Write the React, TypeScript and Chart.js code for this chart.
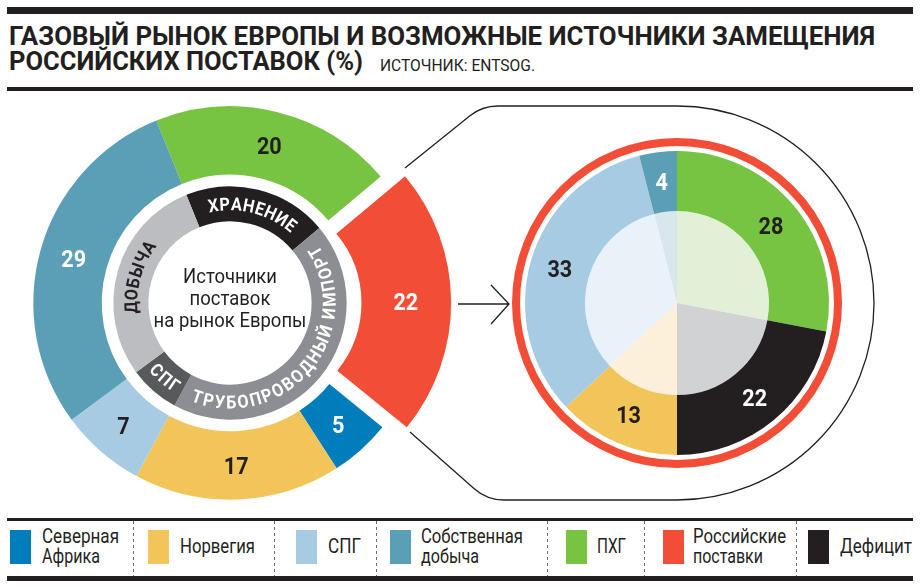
import React, { useEffect, useLayoutEffect, useRef } from 'react';
import { Chart, registerables } from 'chart.js';

Chart.register(...registerables);

// ---------- data ----------
const sourceLabels = ['ПХГ', 'Российские поставки', 'Северная Африка', 'Норвегия', 'СПГ', 'Собственная добыча'];
const sourceValues = [20, 22, 5, 17, 7, 29];
const sourceColors = ['#76c442', '#f24d36', '#007dba', '#f2c55a', '#a8cbe4', '#5a9fb6'];
const sourceLabelColors = ['#231f20', '#ffffff', '#ffffff', '#231f20', '#231f20', '#ffffff'];

const groupLabels = ['ХРАНЕНИЕ', 'ТРУБОПРОВОДНЫЙ ИМПОРТ', 'СПГ', 'ДОБЫЧА'];
const groupValues = [20, 44, 7, 29];
const groupColors = ['#231f20', '#8d8e93', '#58595b', '#bcbdc0'];
const groupTextColors = ['#ffffff', '#ffffff', '#ffffff', '#231f20'];
const groupTextOutward = [true, false, false, true];

const centerLines = ['Источники', 'поставок', 'на рынок Европы'];

const replLabels = ['ПХГ', 'Дефицит', 'Норвегия', 'СПГ', 'Собственная добыча'];
const replValues = [28, 22, 13, 33, 4];
const replColors = ['#76c442', '#231f20', '#f2c55a', '#a8cbe4', '#5a9fb6'];
const replTints = ['#e2f0d8', '#d1d2d4', '#fcf0db', '#e9f2f9', '#d8e7ed'];
const replLabelColors = ['#231f20', '#ffffff', '#231f20', '#231f20', '#ffffff'];

const legendLabels = [['Северная', 'Африка'], ['Норвегия'], ['СПГ'], ['Собственная', 'добыча'], ['ПХГ'], ['Российские', 'поставки'], ['Дефицит']];
const legendColors = ['#007dba', '#f2c55a', '#a8cbe4', '#5a9fb6', '#76c442', '#f24d36', '#231f20'];

const titleLine1 = 'ГАЗОВЫЙ РЫНОК ЕВРОПЫ И ВОЗМОЖНЫЕ ИСТОЧНИКИ ЗАМЕЩЕНИЯ';
const titleLine2 = 'РОССИЙСКИХ ПОСТАВОК (%)';
const sourceNote = 'ИСТОЧНИК: ENTSOG.';

// ---------- layout ----------
const INK = '#231f20';
const FONT = 'Roboto, "Liberation Sans", sans-serif';
const legendSwatchX = [10, 148, 296, 390, 566, 663, 808];
const legendTextX = [42, 180, 328, 421, 597, 693, 840];
const legendTextW = [[77, 58], [75], [33], [102, 58], [29], [93, 70], [72]];
const legendSepX = [133, 274, 376, 547, 644, 796];
const RED_INNER = 107;

function drawCurved(ctx: CanvasRenderingContext2D, text: string, cx: number, cy: number, r: number, mid: number,
  outward: boolean, size: number, color: string, sx: number, ls: number) {
  ctx.save();
  ctx.font = `bold ${size}px ${FONT}`;
  ctx.fillStyle = color;
  ctx.textAlign = 'center';
  ctx.textBaseline = 'alphabetic';
  const cap = size * 0.711;
  const chars = [...text];
  const widths = chars.map((ch) => ctx.measureText(ch).width * sx + ls);
  const total = widths.reduce((a, b) => a + b, 0) - ls;
  const totalAngle = total / r;
  let acc = 0;
  chars.forEach((ch, i) => {
    const w = widths[i] - ls;
    const off = (acc + w / 2) / r;
    const a = outward ? mid - totalAngle / 2 + off : mid + totalAngle / 2 - off;
    ctx.save();
    ctx.translate(cx + r * Math.cos(a), cy + r * Math.sin(a));
    ctx.rotate(outward ? a + Math.PI / 2 : a - Math.PI / 2);
    ctx.scale(sx, 1);
    ctx.fillText(ch, 0, cap / 2);
    ctx.restore();
    acc += widths[i];
  });
  ctx.restore();
}

function drawNumber(ctx: CanvasRenderingContext2D, text: string, x: number, y: number, color: string) {
  const size = 24;
  ctx.save();
  ctx.font = `bold ${size}px ${FONT}`;
  ctx.fillStyle = color;
  ctx.textAlign = 'center';
  ctx.textBaseline = 'alphabetic';
  ctx.translate(x, y);
  ctx.scale(0.9, 1);
  ctx.fillText(text, 0, size * 0.711 / 2);
  ctx.restore();
}

const leftPlugin = {
  id: 'leftDecor',
  beforeDatasetsDraw(chart: any) {
    const red = chart.getDatasetMeta(0).data[1];
    if (red) red.innerRadius = RED_INNER;
  },
  afterDatasetsDraw(chart: any) {
    const ctx: CanvasRenderingContext2D = chart.ctx;
    chart.getDatasetMeta(2).data.forEach((arc: any, i: number) => {
      const mid = (arc.startAngle + arc.endAngle) / 2;
      const r = (arc.innerRadius + arc.outerRadius) / 2;
      drawCurved(ctx, groupLabels[i], arc.x, arc.y, r, mid, groupTextOutward[i], 18, groupTextColors[i], 0.9, 1.2);
    });
    chart.getDatasetMeta(0).data.forEach((arc: any, i: number) => {
      const mid = (arc.startAngle + arc.endAngle) / 2;
      const r = (arc.innerRadius + arc.outerRadius) / 2;
      const off = (arc.options.offset || 0) / 4;
      drawNumber(ctx, String(sourceValues[i]), arc.x + Math.cos(mid) * (r + off), arc.y + Math.sin(mid) * (r + off), sourceLabelColors[i]);
    });
    const c = chart.getDatasetMeta(0).data[0];
    ctx.save();
    ctx.font = `21px ${FONT}`;
    ctx.fillStyle = INK;
    ctx.textAlign = 'center';
    ctx.textBaseline = 'alphabetic';
    centerLines.forEach((line, i) => {
      ctx.save();
      ctx.translate(c.x, c.y - 19.7 + i * 21.7);
      ctx.scale(0.88, 1);
      ctx.fillText(line, 0, 0);
      ctx.restore();
    });
    ctx.restore();
  },
};

const rightPlugin = {
  id: 'rightDecor',
  beforeDatasetsDraw(chart: any) {
    const ctx: CanvasRenderingContext2D = chart.ctx;
    const a = chart.getDatasetMeta(0).data[0];
    const cx = a.x, cy = a.y;
    const R = 197;
    ctx.save();
    ctx.strokeStyle = INK;
    ctx.lineWidth = 1.3;
    ctx.beginPath();
    ctx.moveTo(cx - 272, cy - 135);
    ctx.arcTo(cx - 195, cy - R, cx, cy - R, 45);
    ctx.lineTo(cx, cy - R);
    ctx.arc(cx, cy, R, -Math.PI / 2, Math.PI / 2);
    ctx.arcTo(cx - 190, cy + R, cx - 267, cy + 129, 45);
    ctx.lineTo(cx - 267, cy + 129);
    ctx.stroke();
    // arrow
    ctx.beginPath();
    ctx.moveTo(cx - 219, cy + 1);
    ctx.lineTo(cx - 168, cy + 1);
    ctx.moveTo(cx - 186, cy - 18);
    ctx.lineTo(cx - 168, cy + 1);
    ctx.lineTo(cx - 186, cy + 21);
    ctx.stroke();
    ctx.restore();
  },
  afterDatasetsDraw(chart: any) {
    const ctx: CanvasRenderingContext2D = chart.ctx;
    const meta = chart.getDatasetMeta(0);
    const a = meta.data[0];
    ctx.save();
    ctx.strokeStyle = '#f24d36';
    ctx.lineWidth = 8;
    ctx.beginPath();
    ctx.arc(a.x, a.y, 161, 0, Math.PI * 2);
    ctx.stroke();
    ctx.restore();
    meta.data.forEach((arc: any, i: number) => {
      const mid = (arc.startAngle + arc.endAngle) / 2;
      const r = (arc.innerRadius + arc.outerRadius) / 2;
      drawNumber(ctx, String(replValues[i]), arc.x + Math.cos(mid) * r, arc.y + Math.sin(mid) * r, replLabelColors[i]);
    });
  },
};

function Txt({ x, top, w, size, weight, children }: any) {
  return (
    <span
      data-fit={w}
      style={{
        position: 'absolute', left: x, top, fontSize: size, lineHeight: `${size}px`, fontWeight: weight,
        fontFamily: FONT, color: INK, whiteSpace: 'nowrap', transformOrigin: '0 0', display: 'inline-block',
      }}
    >
      {children}
    </span>
  );
}

function Rule({ top, h }: { top: number; h: number }) {
  return <div style={{ position: 'absolute', left: 7, width: 906, top, height: h, background: INK }} />;
}

export default function App() {
  const leftRef = useRef<HTMLCanvasElement>(null);
  const rightRef = useRef<HTMLCanvasElement>(null);

  useLayoutEffect(() => {
    const fit = () => {
      document.querySelectorAll<HTMLElement>('[data-fit]').forEach((el) => {
        el.style.transform = 'none';
        const w = el.getBoundingClientRect().width;
        const t = parseFloat(el.dataset.fit || '0');
        if (w > 0 && t > 0) el.style.transform = `scaleX(${t / w})`;
      });
    };
    fit();
    const fonts = (document as any).fonts;
    if (fonts && fonts.ready) fonts.ready.then(fit);
  }, []);

  useEffect(() => {
    const left = new Chart(leftRef.current as HTMLCanvasElement, {
      type: 'doughnut',
      data: {
        labels: sourceLabels,
        datasets: [
          { data: sourceValues, backgroundColor: sourceColors, borderWidth: 0, offset: [0, 96, 0, 0, 0, 0], weight: 68.4 } as any,
          { data: sourceValues, backgroundColor: 'rgba(0,0,0,0)', borderWidth: 0, weight: 11.6 } as any,
          { data: groupValues, backgroundColor: groupColors, borderWidth: 0, weight: 35 } as any,
        ],
      },
      options: {
        animation: false,
        responsive: false,
        events: [],
        rotation: -22,
        cutout: '41.5%',
        radius: 196.7,
        plugins: { legend: { display: false }, tooltip: { enabled: false } },
      } as any,
      plugins: [leftPlugin],
    });
    const right = new Chart(rightRef.current as HTMLCanvasElement, {
      type: 'pie',
      data: {
        labels: replLabels,
        datasets: [
          { data: replValues, backgroundColor: replColors, borderWidth: 0, weight: 60 } as any,
          { data: replValues, backgroundColor: replTints, borderWidth: 0, weight: 92 } as any,
        ],
      },
      options: {
        animation: false,
        responsive: false,
        events: [],
        rotation: 0,
        radius: 152,
        layout: { padding: { left: 44 } },
        plugins: { legend: { display: false }, tooltip: { enabled: false } },
      } as any,
      plugins: [rightPlugin],
    });
    return () => {
      left.destroy();
      right.destroy();
    };
  }, []);

  return (
    <div style={{ position: 'absolute', left: 0, top: 0, width: 920, height: 587, background: '#fff', overflow: 'hidden' }}>
      <Rule top={7} h={6.5} />
      <Txt x={9} top={24} w={866} size={25} weight={700}>{titleLine1}</Txt>
      <Txt x={9} top={49} w={354} size={25} weight={700}>{titleLine2}</Txt>
      <Txt x={380} top={57.8} w={155} size={16.2} weight={400}>{sourceNote}</Txt>
      <Rule top={87} h={3.5} />

      <canvas ref={leftRef} width={460} height={420} style={{ position: 'absolute', left: 0, top: 93, width: 460, height: 420 }} />
      <canvas ref={rightRef} width={510} height={420} style={{ position: 'absolute', left: 400, top: 93, width: 510, height: 420 }} />

      <Rule top={518.3} h={2.5} />
      {legendSepX.map((x, i) => (
        <div key={'s' + i} style={{
          position: 'absolute', left: x, top: 521, width: 1.3, height: 55,
          backgroundImage: 'repeating-linear-gradient(to bottom, #6d6e71 0px, #6d6e71 3px, transparent 3px, transparent 6px)',
        }} />
      ))}
      {legendLabels.map((lines, i) => (
        <React.Fragment key={'l' + i}>
          <div style={{ position: 'absolute', left: legendSwatchX[i], top: 530, width: 21, height: 34, background: legendColors[i] }} />
          {lines.map((line, j) => (
            <Txt key={j} x={legendTextX[i]} top={lines.length === 1 ? 535.6 : 526.3 + j * 19.5} w={legendTextW[i][j]} size={21} weight={400}>
              {line}
            </Txt>
          ))}
        </React.Fragment>
      ))}
      <Rule top={576} h={5} />
    </div>
  );
}
